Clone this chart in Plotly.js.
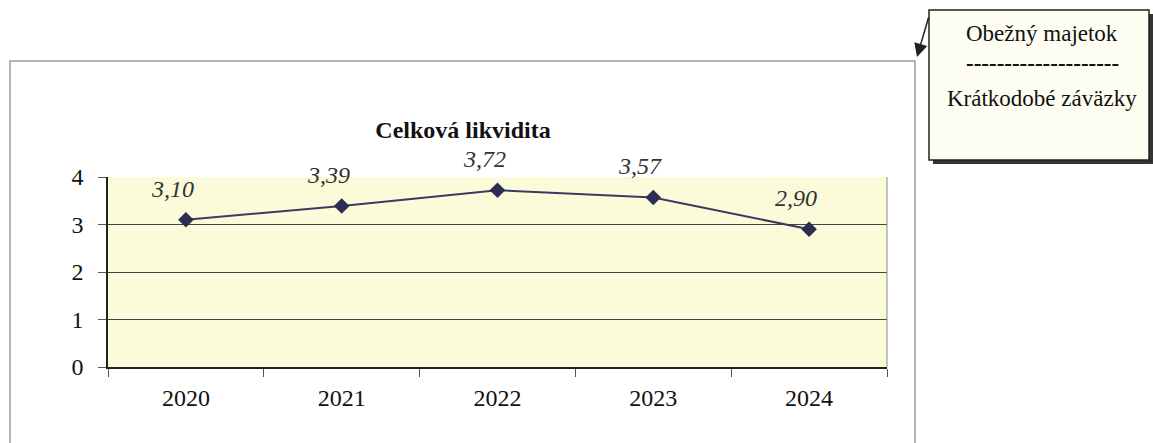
<!DOCTYPE html>
<html>
<head>
<meta charset="utf-8">
<script src="https://cdn.plot.ly/plotly-3.0.1.min.js"></script>
<style>html,body{margin:0;padding:0;background:#fff;font-family:"Liberation Serif",serif;}#chart{width:1153px;height:443px;}</style>
</head>
<body>
<div id="chart"></div>
<script>
// ---- data ----
const years = ["2020", "2021", "2022", "2023", "2024"];
const liquidity = [3.10, 3.39, 3.72, 3.57, 2.90];
const valueLabels = ["3,10", "3,39", "3,72", "3,57", "2,90"];
const yTicks = [0, 1, 2, 3, 4];
const chartTitle = "Celková likvidita";
const noteLines = ["Obežný majetok", "--------------------", "Krátkodobé záväzky"];

// ---- helpers: pixel -> paper ----
const W = 1153, H = 443;
const px = v => v / W;
const py = v => 1 - v / H;
const serif = '"Liberation Serif", serif';

const annotations = years.map((y, i) => ({
  x: i, y: liquidity[i], xref: "x", yref: "y",
  text: valueLabels[i], showarrow: false,
  xshift: -13, yshift: 31,
  font: {family: serif, size: 24, color: "#333", style: "italic"}
}));

noteLines.forEach((t, i) => {
  annotations.push({
    xref: "paper", yref: "paper",
    x: px(1042), y: py([33, 63, 98][i]),
    xanchor: "center", yanchor: "middle",
    text: t,
    showarrow: false,
    font: {family: serif, size: 23, color: "#111", weight: i === 1 ? "bold" : "normal"}
  });
});

// arrow from note box to chart
annotations.push({
  xref: "paper", yref: "paper",
  x: px(917), y: py(57),
  ax: 12, ay: -41,
  text: "", showarrow: true,
  arrowhead: 2, arrowsize: 1.8, arrowwidth: 1.5, arrowcolor: "#222"
});

const shapes = [
  {type: "rect", xref: "paper", yref: "paper", x0: px(10), x1: px(915), y0: py(470), y1: py(61),
   line: {color: "#9a9a9a", width: 1.5}, fillcolor: "rgba(0,0,0,0)", layer: "below"},
  {type: "line", xref: "paper", yref: "paper", x0: px(887), x1: px(887), y0: py(367), y1: py(177),
   line: {color: "#888", width: 1}},
  {type: "rect", xref: "paper", yref: "paper", x0: px(933), x1: px(1153), y0: py(164), y1: py(14),
   line: {width: 0}, fillcolor: "#333"},
  {type: "rect", xref: "paper", yref: "paper", x0: px(929), x1: px(1149), y0: py(160), y1: py(10),
   line: {color: "#222", width: 1.5}, fillcolor: "#fdfdf1"}
];

const trace = {
  x: years, y: liquidity, type: "scatter", mode: "lines+markers",
  line: {color: "#3a3a62", width: 2},
  marker: {symbol: "diamond", size: 12, color: "#2c2c55"},
  hoverinfo: "skip"
};

const layout = {
  width: W, height: H,
  margin: {l: 0, r: 0, t: 0, b: 0},
  paper_bgcolor: "#ffffff",
  plot_bgcolor: "#fbfbd9",
  showlegend: false,
  font: {family: serif, size: 24, color: "#111"},
  title: {
    text: chartTitle,
    xref: "paper", yref: "paper",
    x: px(463), y: py(130), xanchor: "center", yanchor: "middle",
    font: {family: serif, size: 24, color: "#111", weight: "bold"}
  },
  xaxis: {
    domain: [px(108), px(887)],
    type: "category",
    range: [-0.5, 4.5],
    tickson: "boundaries",
    ticks: "outside", ticklen: 8, tickcolor: "#555", tickwidth: 1,
    showgrid: false, zeroline: false,
    showline: true, linecolor: "#222", linewidth: 1.5,
    ticklabelstandoff: 8,
    tickfont: {family: serif, size: 24, color: "#111"},
    fixedrange: true
  },
  yaxis: {
    domain: [py(367), py(177)],
    range: [0, 4],
    tickvals: yTicks,
    ticktext: yTicks.map(String),
    ticks: "outside", ticklen: 8, tickcolor: "#555", tickwidth: 1,
    showgrid: true, gridcolor: "#444", gridwidth: 1,
    zeroline: false,
    showline: true, linecolor: "#222", linewidth: 1.5,
    ticklabelstandoff: 10,
    tickfont: {family: serif, size: 24, color: "#111"},
    fixedrange: true
  },
  shapes: shapes,
  annotations: annotations
};

const cfg = {displayModeBar: false};
Plotly.newPlot("chart", [trace], layout, cfg);
// redraw once the serif faces are loaded, so text is measured and drawn in them
Promise.all([
  document.fonts.load('24px "Liberation Serif"'),
  document.fonts.load('bold 24px "Liberation Serif"'),
  document.fonts.load('italic 24px "Liberation Serif"')
]).catch(() => {}).then(() => {
  const gd = document.getElementById("chart");
  Plotly.purge(gd);
  Plotly.newPlot(gd, [trace], layout, cfg);
});
</script>
</body>
</html>
